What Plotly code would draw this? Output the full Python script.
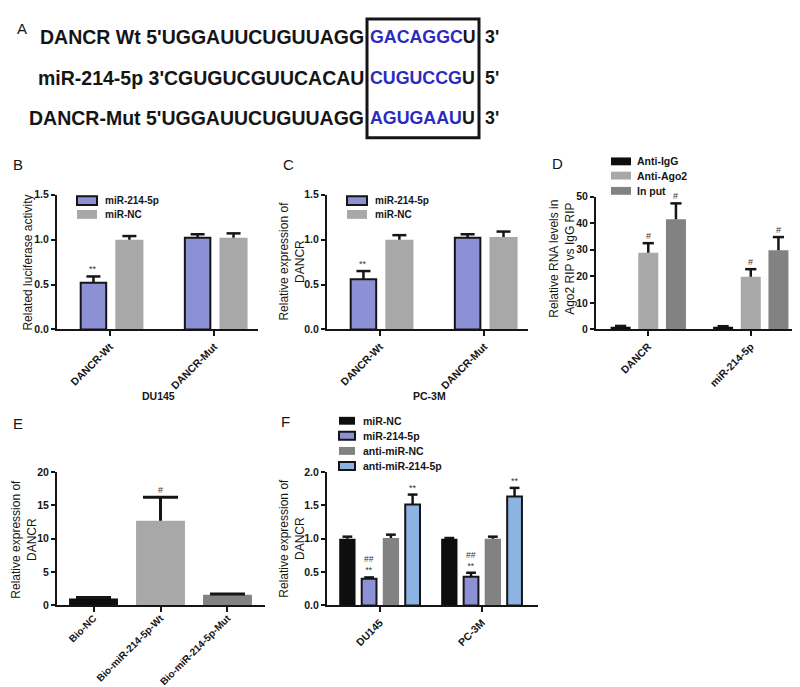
import plotly.graph_objects as go

# ---------------- data ----------------
# Panel A: sequence alignment
a_prefix = ["DANCR Wt 5'UGGAUUCUGUUAGG", "miR-214-5p 3'CGUGUCGUUCACAU", "DANCR-Mut 5'UGGAUUCUGUUAGG"]
a_site = ["GACAGGC", "CUGUCCG", "AGUGAAU"]
a_tail = ["U", "U", "U"]
a_end = ["3'", "5'", "3'"]

# Panel B: DU145 luciferase
b_categories = ["DANCR-Wt", "DANCR-Mut"]
b_mir214 = [0.52, 1.02]
b_mir214_err = [0.07, 0.04]
b_mirnc = [1.00, 1.02]
b_mirnc_err = [0.04, 0.05]
b_mir214_marks = ["**", ""]
b_ytitle = "Related luciferase activity"
b_xtitle = "DU145"

# Panel C: PC-3M
c_categories = ["DANCR-Wt", "DANCR-Mut"]
c_mir214 = [0.56, 1.02]
c_mir214_err = [0.09, 0.04]
c_mirnc = [1.00, 1.03]
c_mirnc_err = [0.05, 0.06]
c_mir214_marks = ["**", ""]
c_ytitle = "Relative expression of<br>DANCR"
c_xtitle = "PC-3M"

# Panel D: RIP
d_categories = ["DANCR", "miR-214-5p"]
d_igg = [1.0, 1.0]
d_igg_err = [0.3, 0.2]
d_ago2 = [28.9, 19.8]
d_ago2_err = [3.6, 2.9]
d_input = [41.5, 29.8]
d_input_err = [6.0, 5.0]
d_ago2_marks = ["#", "#"]
d_input_marks = ["#", "#"]
d_series = ["Anti-IgG", "Anti-Ago2", "In put"]
d_ytitle = "Relative RNA levels in<br>Ago2 RIP vs IgG RIP"

# Panel E: biotin pull-down
e_categories = ["Bio-NC", "Bio-miR-214-5p-Wt", "Bio-miR-214-5p-Mut"]
e_values = [1.05, 12.7, 1.6]
e_err = [0.15, 3.5, 0.12]
e_marks = ["", "#", ""]
e_ytitle = "Relative expression of<br>DANCR"

# Panel F
f_categories = ["DU145", "PC-3M"]
f_series = ["miR-NC", "miR-214-5p", "anti-miR-NC", "anti-miR-214-5p"]
f_mirnc = [1.00, 1.00]
f_mirnc_err = [0.03, 0.01]
f_mir214 = [0.40, 0.43]
f_mir214_err = [0.02, 0.06]
f_antinc = [1.01, 1.00]
f_antinc_err = [0.05, 0.03]
f_anti214 = [1.51, 1.63]
f_anti214_err = [0.15, 0.13]
f_mir214_marks = ["##<br>**", "##<br>**"]
f_anti214_marks = ["**", "**"]
f_ytitle = "Relative expression of<br>DANCR"

# ---------------- style ----------------
W, H = 800, 687
FONT = "Arial, 'Liberation Sans', Helvetica, sans-serif"
INK = "#151515"
PURPLE = "#8C90D4"
LBLUE = "#8DB3E2"
GRAY_L = "#A8A8A8"
GRAY_D = "#828282"
BLACK_BAR = "#0E0E0E"
BLUE_TXT = "#2B2BC0"
TITLE_SIZE = 12
XTICK_SIZE = 10.5
YTICK_SIZE = 10.5
LEG_SIZE = 10
SEQ_SIZE = 19.5
SITE_SIZE = 17.8


def X(px):
    return px / W


def Y(py):
    return 1 - py / H


fig = go.Figure()
layout = dict(width=W, height=H, margin=dict(l=0, r=0, t=0, b=0),
              paper_bgcolor="white", plot_bgcolor="white", barmode="overlay",
              showlegend=False, font=dict(family=FONT, color=INK))


def axes(n, x0, x1, y0, y1, xrange, yrange, dtick, fmt, cats, standoff=0, xsize=XTICK_SIZE):
    s = "" if n == 1 else str(n)
    layout["xaxis" + s] = dict(domain=[X(x0), X(x1)], range=xrange, anchor="y" + s,
                               showline=True, linecolor=INK, linewidth=2,
                               ticks="outside", ticklen=5, tickwidth=1.5, tickcolor=INK,
                               tickvals=list(range(len(cats))), ticktext=cats, tickangle=-45,
                               ticklabelstandoff=standoff,
                               tickfont=dict(size=xsize, family=FONT, color=INK, weight="bold"),
                               showgrid=False, zeroline=False)
    layout["yaxis" + s] = dict(domain=[Y(y1), Y(y0)], range=yrange, anchor="x" + s,
                               showline=True, linecolor=INK, linewidth=2,
                               ticks="outside", ticklen=4, tickwidth=1.5, tickcolor=INK,
                               dtick=dtick, tick0=0, tickformat=fmt,
                               tickfont=dict(size=YTICK_SIZE, family=FONT, color=INK, weight="bold"),
                               showgrid=False, zeroline=False)


def bars(n, vals, errs, center, width, color, outline, cap, thick, marks=None, msize=9):
    s = "" if n == 1 else str(n)
    xs = list(range(len(vals)))
    fig.add_trace(go.Bar(
        x=xs, y=vals, offset=center - width / 2, width=width,
        marker=dict(color=color, line=dict(color=INK, width=2 if outline else 0)),
        error_y=dict(type="data", symmetric=False, array=errs, arrayminus=[0] * len(errs),
                     color=INK, thickness=thick, width=0),
        xaxis="x" + s, yaxis="y" + s, hoverinfo="skip"))
    tops = [v + e for v, e in zip(vals, errs)]
    fig.add_trace(go.Scatter(
        x=[i + center for i in xs], y=tops, mode="markers",
        marker=dict(symbol="line-ew", size=cap, line=dict(color=INK, width=thick)),
        xaxis="x" + s, yaxis="y" + s, hoverinfo="skip"))
    if marks:
        for i, (t, m) in enumerate(zip(tops, marks)):
            if m:
                fig.add_annotation(x=i + center, y=t, xref="x" + s, yref="y" + s, text=m,
                                   showarrow=False, yanchor="bottom", yshift=0,
                                   font=dict(size=msize, color="#333"))


def text(px, py, t, size, xanchor="center", angle=0, bold=True, color=INK):
    fig.add_annotation(x=X(px), y=Y(py), xref="paper", yref="paper", text=t,
                       showarrow=False, xanchor=xanchor, yanchor="middle", textangle=angle,
                       font=dict(size=size, family=FONT, color=color,
                                 weight="bold" if bold else "normal"))


def legend_item(x0, yc, w, h, color, outline, label, tx, size=LEG_SIZE):
    fig.add_shape(type="rect", xref="paper", yref="paper",
                  x0=X(x0), x1=X(x0 + w), y0=Y(yc + h / 2), y1=Y(yc - h / 2),
                  fillcolor=color,
                  line=dict(color=INK if outline else color, width=2 if outline else 0))
    text(tx, yc, label, size, xanchor="left")


# ---------------- panel A ----------------
text(14, 15, "A", 15, bold=False)
rows_y = [23, 65, 106]
for yv, pre, site, tail, end in zip(rows_y, a_prefix, a_site, a_tail, a_end):
    text(358, yv, pre, SEQ_SIZE, xanchor="right")
    text(360, yv, f"<span style='color:{BLUE_TXT}'>{site}</span>{tail}", SITE_SIZE, xanchor="left")
    text(475, yv, end, SITE_SIZE, xanchor="left")
fig.add_shape(type="rect", xref="paper", yref="paper", x0=X(359), x1=X(471), y0=Y(126), y1=Y(5),
              line=dict(color=INK, width=3), fillcolor="rgba(0,0,0,0)")

# ---------------- panel B ----------------
text(10, 153, "B", 15, bold=False)
axes(1, 49, 250, 184, 321, [-0.51, 1.42], [0, 1.5], 0.5, ".1f", b_categories)
bars(1, b_mir214, b_mir214_err, -0.16, 0.245, PURPLE, True, 10, 2.5, b_mir214_marks)
bars(1, b_mirnc, b_mirnc_err, 0.185, 0.27, GRAY_L, False, 10, 2.5)
legend_item(69, 190, 20, 9, PURPLE, True, "miR-214-5p", 95)
legend_item(69, 204, 20, 9, GRAY_L, False, "miR-NC", 95)
text(20, 253, b_ytitle, TITLE_SIZE, angle=-90, bold=False)
text(150, 389, b_xtitle, 10.5)

# ---------------- panel C ----------------
text(280, 153, "C", 15, bold=False)
axes(2, 319, 520, 184, 321, [-0.51, 1.42], [0, 1.5], 0.5, ".1f", c_categories)
bars(2, c_mir214, c_mir214_err, -0.16, 0.245, PURPLE, True, 10, 2.5, c_mir214_marks)
bars(2, c_mirnc, c_mirnc_err, 0.185, 0.27, GRAY_L, False, 10, 2.5)
legend_item(339, 190, 20, 9, PURPLE, True, "miR-214-5p", 365)
legend_item(339, 204, 20, 9, GRAY_L, False, "miR-NC", 365)
text(284, 252, c_ytitle, TITLE_SIZE, angle=-90, bold=False)
text(421, 389, c_xtitle, 10.5)

# ---------------- panel D ----------------
text(549, 152, "D", 15, bold=False)
axes(3, 588, 793, 186, 321, [-0.51, 1.49], [0, 50], 10, "d", d_categories)
bars(3, d_igg, d_igg_err, -0.27, 0.195, BLACK_BAR, False, 8, 2.5)
bars(3, d_ago2, d_ago2_err, 0.0, 0.195, GRAY_L, False, 8, 2.5, d_ago2_marks)
bars(3, d_input, d_input_err, 0.27, 0.195, GRAY_D, False, 8, 2.5, d_input_marks)
for yc, col, lab in zip([150, 164.5, 180], [BLACK_BAR, GRAY_L, GRAY_D], d_series):
    legend_item(603, yc, 20, 8, col, False, lab, 627, 10.5)
text(554, 249, d_ytitle, TITLE_SIZE, angle=-90, bold=False)

# ---------------- panel E ----------------
text(10, 417, "E", 15, bold=False)
axes(4, 49, 257, 466, 602, [-0.545, 2.56], [0, 20], 5, "d", e_categories, standoff=-4, xsize=10)
bars(4, e_values, e_err, 0.0, 0.73, [BLACK_BAR, GRAY_L, GRAY_D], False, 25, 3, e_marks)
text(16, 535, e_ytitle, TITLE_SIZE, angle=-90, bold=False)

# ---------------- panel F ----------------
text(277, 415, "F", 15, bold=False)
axes(5, 319, 530, 466, 602, [-0.52, 1.55], [0, 2], 0.5, ".1f", f_categories)
bars(5, f_mirnc, f_mirnc_err, -0.32, 0.16, BLACK_BAR, False, 7, 2.5)
bars(5, f_mir214, f_mir214_err, -0.107, 0.145, PURPLE, True, 7, 2.5, f_mir214_marks, 8.5)
bars(5, f_antinc, f_antinc_err, 0.107, 0.16, GRAY_D, False, 7, 2.5)
bars(5, f_anti214, f_anti214_err, 0.32, 0.145, LBLUE, True, 7, 2.5, f_anti214_marks)
for yc, col, ol, lab in zip([414, 429.3, 444.7, 460], [BLACK_BAR, PURPLE, GRAY_D, LBLUE],
                            [False, True, False, True], f_series):
    legend_item(331, yc, 16, 8, col, ol, lab, 353, 10.5)
text(284, 534, f_ytitle, TITLE_SIZE, angle=-90, bold=False)

fig.update_layout(**layout)
fig.update_traces(selector=dict(type="scatter"), cliponaxis=False)
fig.write_html("out.html")
